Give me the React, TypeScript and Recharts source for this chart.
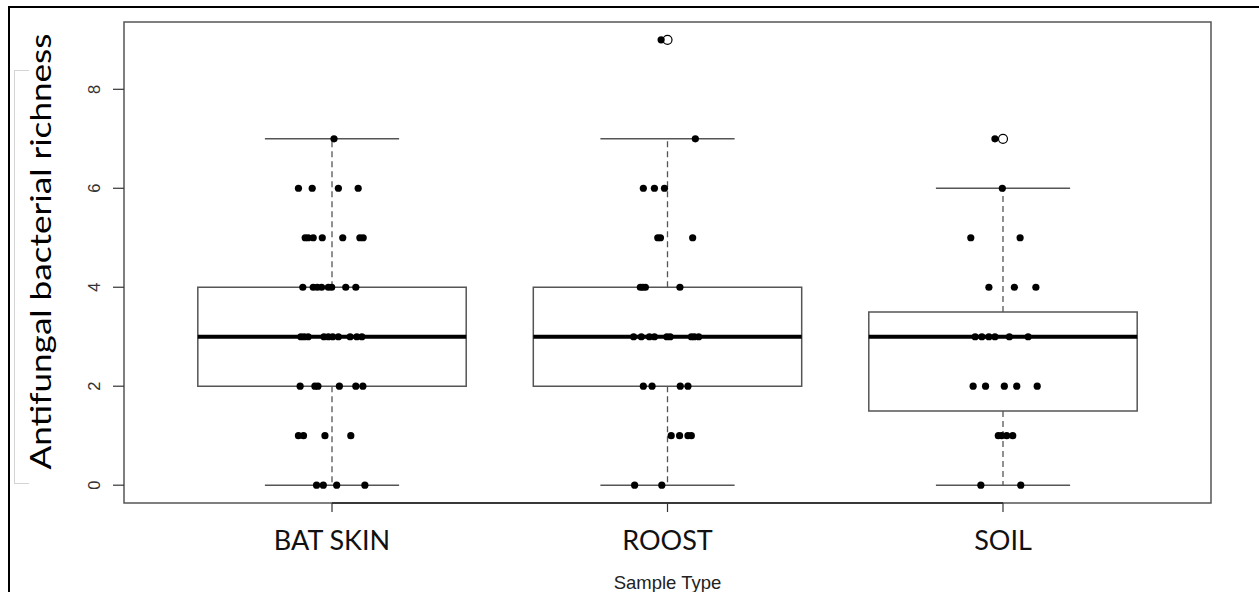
import React from "react";
import { ComposedChart, XAxis, YAxis, Scatter, ReferenceArea, ReferenceLine, Label } from "recharts";

// sample groups and their box statistics (Tukey hinges, whisker ends)
const categories = ["BAT SKIN", "ROOST", "SOIL"];
const q1 = [2, 2, 1.5];
const medians = [3, 3, 3];
const q3 = [4, 4, 3.5];
const whiskerLow = [0, 0, 0];
const whiskerHigh = [7, 7, 6];
const outliers = [[], [9], [7]];

// jittered points: richness value + horizontal jitter
const batSkinRichness = [7, 6, 6, 6, 6, 5, 5, 5, 5, 5, 5, 5, 4, 4, 4, 4, 4, 4, 4, 4, 3, 3, 3, 3, 3, 3, 3, 3, 3, 3, 2, 2, 2, 2, 2, 2, 1, 1, 1, 1, 0, 0, 0, 0];
const batSkinJitter = [0.006, -0.1, -0.059, 0.019, 0.078, -0.08, -0.071, -0.056, -0.029, 0.032, 0.083, 0.093, -0.087, -0.056, -0.044, -0.031, -0.011, -0.001, 0.041, 0.071, -0.093, -0.083, -0.071, -0.024, -0.011, 0.002, 0.019, 0.054, 0.074, 0.089, -0.095, -0.051, -0.042, 0.022, 0.071, 0.092, -0.1, -0.085, -0.021, 0.056, -0.046, -0.026, 0.014, 0.098];
const roostRichness = [9, 7, 6, 6, 6, 5, 5, 5, 4, 4, 4, 4, 3, 3, 3, 3, 3, 3, 3, 3, 3, 2, 2, 2, 2, 1, 1, 1, 1, 0, 0];
const roostJitter = [-0.019, 0.083, -0.072, -0.039, -0.009, -0.029, -0.021, 0.075, -0.081, -0.074, -0.066, 0.037, -0.101, -0.078, -0.054, -0.039, -0.002, 0.008, 0.071, 0.08, 0.093, -0.072, -0.046, 0.038, 0.061, 0.011, 0.036, 0.061, 0.071, -0.098, -0.017];
const soilRichness = [7, 6, 5, 5, 4, 4, 4, 3, 3, 3, 3, 3, 3, 2, 2, 2, 2, 2, 1, 1, 1, 1, 0, 0];
const soilJitter = [-0.024, -0.002, -0.096, 0.051, -0.042, 0.034, 0.098, -0.083, -0.063, -0.042, -0.024, 0.019, 0.075, -0.089, -0.052, 0.004, 0.041, 0.102, -0.014, -0.004, 0.011, 0.029, -0.066, 0.053];

const yTicks = [0, 2, 4, 6, 8];
const xDomain: [number, number] = [0.38, 3.62];
const yDomain: [number, number] = [-0.36, 9.36];

const groups = [
  { richness: batSkinRichness, jitter: batSkinJitter },
  { richness: roostRichness, jitter: roostJitter },
  { richness: soilRichness, jitter: soilJitter },
];

const pointData = groups.flatMap((g, i) =>
  g.richness.map((v, j) => ({ x: i + 1 + g.jitter[j], y: v }))
);
const outlierData = outliers.flatMap((vals, i) => vals.map((v) => ({ x: i + 1, y: v })));

const BOX = "#555";

const XTick = (props: any) => {
  const { x, y, payload } = props;
  return (
    <text x={x} y={y + 38} textAnchor="middle" fontFamily="Lato" fontSize={27} fill="#111">
      {categories[payload.value - 1]}
    </text>
  );
};

const YTick = (props: any) => {
  const { x, y, payload } = props;
  const bx = x - 13;
  return (
    <text x={bx} y={y} transform={`rotate(-90 ${bx} ${y})`} textAnchor="middle" fontFamily="Liberation Sans" fontSize={16.5} fill="#333">
      {payload.value}
    </text>
  );
};

const dot = (p: any) => <circle cx={p.cx} cy={p.cy} r={3.6} fill="#000" />;
const openDot = (p: any) => <circle cx={p.cx} cy={p.cy} r={4.5} fill="#fff" stroke="#000" strokeWidth={1.2} />;

export default function App() {
  return (
    <div style={{ position: "absolute", left: 0, top: 0, width: 1259, height: 592, overflow: "hidden", background: "#fff" }}>
      {/* outer figure frame */}
      <div style={{ position: "absolute", left: 8, top: 6, width: 1400, height: 700, borderLeft: "2px solid #000", borderTop: "2px solid #000" }} />
      {/* faint box around pasted axis title */}
      <div style={{ position: "absolute", left: 14, top: 70, width: 14, height: 412, borderLeft: "1px solid #d4d4d4", borderTop: "1px solid #d4d4d4", borderBottom: "1px solid #d4d4d4" }} />
      <div style={{ position: "absolute", left: 0, top: 0 }}>
        <ComposedChart width={1259} height={592} margin={{ top: 22, right: 48, bottom: 29, left: 94 }}>
          <XAxis
            type="number"
            dataKey="x"
            domain={xDomain}
            ticks={[1, 2, 3]}
            allowDataOverflow
            axisLine={false}
            tickSize={9}
            tickMargin={0}
            tickLine={{ stroke: "#333", strokeWidth: 1.2 }}
            tick={<XTick />}
            height={60}
          >
            <Label
              content={(p: any) => (
                <text x={p.viewBox.x + p.viewBox.width / 2} y={p.viewBox.y + 86} textAnchor="middle" fontFamily="Liberation Sans" fontSize={18.5} fill="#222">
                  Sample Type
                </text>
              )}
            />
          </XAxis>
          <YAxis
            type="number"
            dataKey="y"
            domain={yDomain}
            ticks={yTicks}
            allowDataOverflow
            axisLine={false}
            tickSize={11}
            tickMargin={0}
            tickLine={{ stroke: "#333", strokeWidth: 1.2 }}
            tick={<YTick />}
            width={30}
          >
            <Label
              content={(p: any) => {
                const tx = p.viewBox.x - 43;
                const ty = p.viewBox.y + p.viewBox.height / 2 - 11;
                return (
                  <text x={tx} y={ty} transform={`rotate(-90 ${tx} ${ty})`} textAnchor="middle" fontFamily="Lato" fontSize={29} fill="#000" textLength={436} lengthAdjust="spacingAndGlyphs">
                    Antifungal bacterial richness
                  </text>
                );
              }}
            />
          </YAxis>

          {/* plot frame */}
          <ReferenceArea x1={xDomain[0]} x2={xDomain[1]} y1={yDomain[0]} y2={yDomain[1]} fill="none" stroke={BOX} strokeWidth={1.5} fillOpacity={0} ifOverflow="visible" />
          <ReferenceLine segment={[{ x: 1, y: yDomain[0] }, { x: 3, y: yDomain[0] }]} stroke="#222" strokeWidth={1.6} ifOverflow="visible" />

          {categories.map((c, i) => (
            <ReferenceArea key={`box-${c}`} x1={i + 0.6} x2={i + 1.4} y1={q1[i]} y2={q3[i]} fill="none" fillOpacity={0} stroke={BOX} strokeWidth={1.5} />
          ))}
          {categories.map((c, i) => (
            <ReferenceLine key={`wu-${c}`} segment={[{ x: i + 1, y: q3[i] }, { x: i + 1, y: whiskerHigh[i] }]} stroke={BOX} strokeWidth={1.3} strokeDasharray="6 4" />
          ))}
          {categories.map((c, i) => (
            <ReferenceLine key={`wl-${c}`} segment={[{ x: i + 1, y: q1[i] }, { x: i + 1, y: whiskerLow[i] }]} stroke={BOX} strokeWidth={1.3} strokeDasharray="6 4" />
          ))}
          {categories.map((c, i) => (
            <ReferenceLine key={`cu-${c}`} segment={[{ x: i + 0.8, y: whiskerHigh[i] }, { x: i + 1.2, y: whiskerHigh[i] }]} stroke={BOX} strokeWidth={1.5} />
          ))}
          {categories.map((c, i) => (
            <ReferenceLine key={`cl-${c}`} segment={[{ x: i + 0.8, y: whiskerLow[i] }, { x: i + 1.2, y: whiskerLow[i] }]} stroke={BOX} strokeWidth={1.5} />
          ))}
          {categories.map((c, i) => (
            <ReferenceLine key={`md-${c}`} segment={[{ x: i + 0.6, y: medians[i] }, { x: i + 1.4, y: medians[i] }]} stroke="#000" strokeWidth={3.8} />
          ))}

          <Scatter data={outlierData} shape={openDot} isAnimationActive={false} />
          <Scatter data={pointData} shape={dot} isAnimationActive={false} />
        </ComposedChart>
      </div>
    </div>
  );
}
